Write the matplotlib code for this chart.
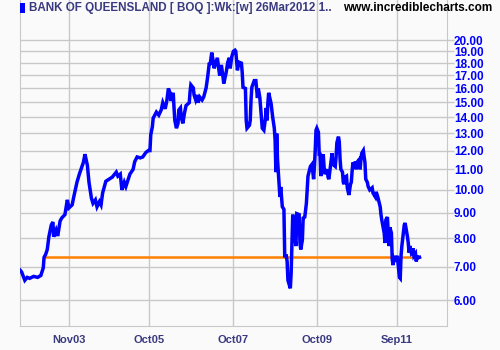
import numpy as np
import pandas as pd
import matplotlib
matplotlib.use("Agg")
import matplotlib.pyplot as plt
import matplotlib.dates as mdates
from matplotlib.ticker import FixedLocator, FormatStrFormatter
from matplotlib.patches import Rectangle

# weekly closes (weeks counted from 2 Sep 2002)
start_date = "2002-09-02"
weeks = [0, 2, 6, 9, 12, 17, 22, 26, 29, 30, 32, 34, 36, 39, 41, 42, 45, 47, 50, 52,
         56, 59, 61, 65, 67, 71, 74, 76, 79, 81, 84, 86, 89, 91, 94, 96, 99, 101, 103, 107,
         111, 115, 120, 122, 125, 127, 130, 132, 135, 137, 141, 143, 146, 150, 153, 157, 160, 162, 163, 165,
         166, 170, 173, 176, 178, 181, 183, 185, 187, 188, 191, 192, 193, 195, 197, 198, 200, 201, 203, 205,
         207, 211, 212, 213, 216, 217, 219, 221, 222, 224, 227, 229, 232, 234, 236, 237, 239, 241, 242, 244,
         246, 248, 249, 251, 253, 254, 257, 259, 261, 262, 264, 266, 268, 269, 271, 273, 276, 277, 278, 281,
         282, 283, 286, 287, 288, 289, 292, 294, 296, 297, 298, 299, 301, 302, 304, 306, 307, 308, 309, 310,
         313, 314, 315, 317, 318, 319, 320, 321, 324, 325, 327, 329, 330, 332, 333, 334, 337, 338, 339, 340,
         342, 343, 344, 345, 348, 349, 350, 352, 353, 355, 357, 358, 359, 362, 364, 366, 367, 368, 369, 370,
         372, 373, 374, 375, 377, 378, 379, 380, 383, 384, 385, 387, 389, 390, 393, 394, 395, 397, 398, 399,
         400, 402, 403, 404, 405, 407, 408, 410, 412, 413, 414, 415, 417, 418, 419, 420, 423, 424, 425, 426,
         428, 429, 430, 431, 433, 434, 436, 439, 440, 443, 444, 446, 449, 450, 451, 454, 455, 456, 458, 459,
         460, 461, 463, 464, 465, 466, 468, 470, 471, 473, 474, 475, 476, 478, 479, 480, 481, 483, 484, 485,
         486, 488, 489, 490, 491, 493, 494, 495, 496, 498]
close = [6.90, 6.84, 6.58, 6.67, 6.64, 6.70, 6.67, 6.73, 6.97, 7.32, 7.42, 7.59, 8.05, 8.50, 8.62, 8.05, 8.30, 8.08, 8.66, 8.78,
         8.92, 9.55, 9.20, 9.33, 9.68, 10.36, 10.76, 11.00, 11.36, 11.80, 11.20, 10.36, 9.63, 9.40, 9.55, 9.25, 9.47, 9.33, 9.86, 10.41,
         10.51, 10.61, 10.86, 10.66, 10.76, 10.00, 10.36, 10.16, 10.51, 10.76, 11.00, 11.40, 11.65, 11.60, 11.65, 11.90, 12.00, 12.00, 12.91, 13.40,
         13.94, 14.34, 14.14, 14.48, 14.98, 14.56, 15.10, 16.00, 15.68, 15.10, 15.68, 14.63, 13.80, 13.31, 13.61, 14.48, 14.62, 14.00, 13.61, 14.27,
         14.78, 14.98, 15.76, 16.27, 16.04, 15.52, 15.17, 15.52, 14.98, 15.38, 15.17, 15.38, 16.04, 16.90, 18.02, 17.84, 18.89, 18.07, 17.56, 17.99,
         18.44, 17.40, 16.98, 17.84, 16.90, 16.37, 17.23, 18.07, 18.44, 17.56, 18.53, 19.00, 19.10, 19.00, 17.40, 18.07, 17.99, 17.23, 16.08, 16.00,
         13.80, 13.31, 13.49, 13.80, 15.17, 16.08, 16.59, 16.59, 15.31, 16.00, 15.68, 15.31, 14.00, 13.31, 13.19, 13.94, 14.62, 13.80, 14.98, 15.68,
         14.92, 14.48, 14.00, 13.31, 12.60, 10.86, 12.98, 11.52, 9.68, 10.14, 9.25, 9.14, 7.37, 7.37, 7.18, 6.58, 6.34, 6.81, 7.82, 8.92,
         8.41, 7.93, 7.71, 8.96, 8.92, 7.82, 7.59, 7.93, 8.78, 8.82, 9.40, 10.00, 10.66, 11.15, 11.26, 10.51, 11.15, 12.00, 13.19, 13.31,
         13.06, 11.80, 11.80, 10.66, 11.60, 11.80, 11.15, 10.76, 11.00, 10.61, 10.51, 11.15, 11.85, 11.26, 11.15, 11.65, 12.44, 12.80, 12.50, 11.52,
         11.00, 10.86, 10.36, 10.27, 10.61, 10.66, 10.10, 9.77, 10.27, 10.36, 10.91, 11.36, 11.15, 11.40, 11.00, 11.36, 11.52, 11.00, 11.52, 11.85,
         12.00, 11.65, 11.36, 10.51, 10.36, 10.16, 10.00, 10.10, 9.86, 9.68, 9.91, 9.68, 9.25, 8.92, 8.70, 8.19, 7.82, 8.70, 8.82, 8.23,
         7.71, 8.41, 8.19, 7.25, 7.06, 7.32, 7.25, 7.37, 7.18, 6.67, 6.64, 7.37, 7.71, 8.23, 8.50, 8.58, 8.41, 8.05, 7.82, 7.48,
         7.71, 7.45, 7.48, 7.63, 7.37, 7.45, 7.18, 7.37, 7.30, 7.32]

# horizontal support line
support_level = 7.32
support_from_week = 30

y_ticks = [6, 7, 8, 9, 10, 11, 12, 13, 14, 15, 16, 17, 18, 19, 20]
x_ticks = ["2003-11-03", "2005-10-03", "2007-10-01", "2009-10-05", "2011-09-05"]

title = "BANK OF QUEENSLAND [ BOQ ]:Wk:[w] 26Mar2012 1.."
site = "www.incrediblecharts.com"

dates = pd.Timestamp(start_date) + pd.to_timedelta(np.array(weeks) * 7, unit="D")
support_dates = [dates[weeks.index(support_from_week)], dates[-1]]

plt.rcParams["font.family"] = ["Liberation Sans", "DejaVu Sans"]
bg = "#fafafa"
grid_c = "#c8c8c8"
navy = "#3a3a80"

fig = plt.figure(figsize=(5, 3.5), dpi=100, facecolor=bg)
ax = fig.add_axes([0.04, 0.068, 0.854, 0.932], facecolor=bg)

ax.plot(dates, close, color="#0000ff", linewidth=2.5, solid_joinstyle="miter", zorder=3)
ax.plot(support_dates, [support_level, support_level], color="#ff8000", linewidth=1.8, zorder=2)

ax.set_yscale("log")
ax.set_ylim(5.32, 24.1)
ax.set_xlim(pd.Timestamp("2002-09-02"), pd.Timestamp("2012-11-14"))

ax.yaxis.set_major_locator(FixedLocator(y_ticks))
ax.yaxis.set_major_formatter(FormatStrFormatter("%.2f"))
ax.yaxis.set_minor_locator(FixedLocator([]))
ax.yaxis.tick_right()
ax.tick_params(axis="y", which="major", length=5, width=1, color=grid_c, pad=0,
               labelsize=8.5, labelcolor="#0000ff")
for lbl in ax.get_yticklabels():
    lbl.set_fontweight("bold")

ax.xaxis.set_major_locator(FixedLocator(mdates.date2num(pd.to_datetime(x_ticks))))
ax.xaxis.set_major_formatter(mdates.DateFormatter("%b%y"))
ax.tick_params(axis="x", which="major", length=0, pad=6, labelsize=8, labelcolor=navy)
for lbl in ax.get_xticklabels():
    lbl.set_fontweight("bold")

ax.grid(True, color=grid_c, linewidth=1)
for side in ["left", "bottom", "right"]:
    ax.spines[side].set_color(grid_c)
ax.spines["top"].set_visible(False)

fig.patches.append(Rectangle((0.040, 0.963), 0.010, 0.028, transform=fig.transFigure,
                             facecolor="#0000ff", edgecolor="none"))
fig.text(0.058, 0.977, title, fontsize=8.4, fontweight="bold", color=navy, va="center", ha="left")
fig.text(0.686, 0.977, site, fontsize=8.5, fontweight="bold", color="black", va="center", ha="left")

fig.savefig("out.png", dpi=100, facecolor=bg)
